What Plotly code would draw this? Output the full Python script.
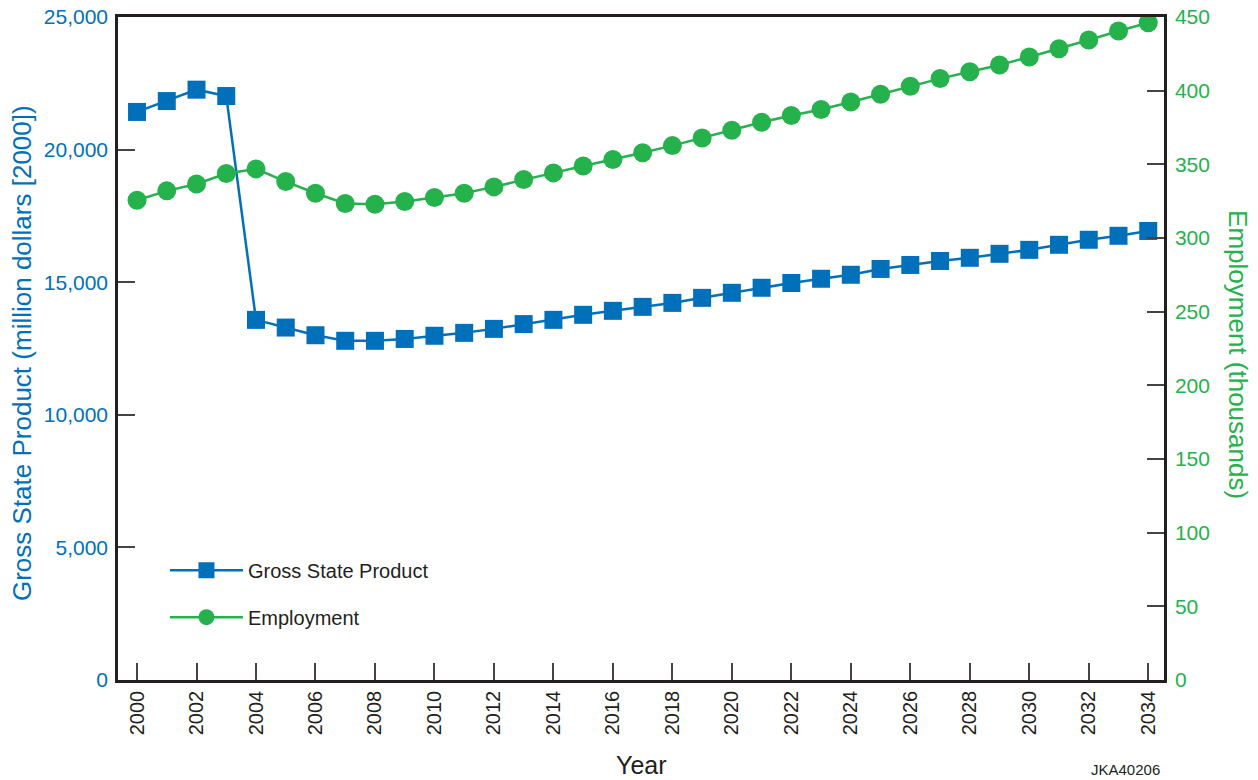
import plotly.graph_objects as go

years = list(range(2000, 2035))
gsp = [21420, 21830, 22260, 22020, 13580, 13290, 13000, 12790, 12790, 12860,
       12980, 13090, 13240, 13420, 13580, 13770, 13920, 14070, 14220, 14410,
       14600, 14790, 14970, 15130, 15280, 15500, 15650, 15800, 15920, 16070,
       16220, 16410, 16600, 16750, 16930]
employment = [325.6, 332.0, 336.7, 343.8, 346.9, 338.3, 330.4, 323.4, 322.9, 324.8,
              327.5, 330.4, 334.7, 339.7, 344.2, 348.9, 353.3, 357.8, 362.7, 367.9,
              373.1, 378.6, 383.1, 387.2, 392.3, 397.6, 403.0, 408.2, 412.9, 417.4,
              422.9, 428.5, 434.4, 440.5, 446.1]
x_ticks = list(range(2000, 2035, 2))
left_ticks = [0, 5000, 10000, 15000, 20000, 25000]
right_ticks = [0, 50, 100, 150, 200, 250, 300, 350, 400, 450]

BLUE = "#0070BA"
GREEN = "#25B14B"
AXIS = "#231F20"
FONT = "Liberation Sans, Arial, sans-serif"

fig = go.Figure()
fig.add_trace(go.Scatter(
    x=years, y=gsp, name="Gross State Product", mode="lines+markers",
    line=dict(color=BLUE, width=2.5),
    marker=dict(symbol="square", size=18, color=BLUE),
    legendgroup="g1", yaxis="y"))
fig.add_trace(go.Scatter(
    x=years, y=employment, name="Employment", mode="lines+markers",
    line=dict(color=GREEN, width=2.5),
    marker=dict(symbol="circle", size=19, color=GREEN),
    legendgroup="g2", yaxis="y2"))

fig.update_layout(
    width=1258, height=780,
    margin=dict(l=118, r=94, t=17, b=100, autoexpand=False),
    paper_bgcolor="white", plot_bgcolor="white",
    font=dict(family=FONT, size=20, color="#231F20"),
    showlegend=True,
    legend=dict(x=0.0449, y=0.195, xanchor="left", yanchor="top",
                bgcolor="rgba(0,0,0,0)", borderwidth=0,
                font=dict(size=20, color="#231F20"),
                traceorder="grouped", tracegroupgap=18, itemwidth=73),
    xaxis=dict(
        range=[1999.36, 2034.53], tickvals=x_ticks, ticktext=[str(v) for v in x_ticks],
        tickangle=-90, ticks="inside", ticklen=17, tickwidth=1.5, tickcolor="#444",
        showline=True, linecolor=AXIS, linewidth=2.5, mirror=True,
        showgrid=False, zeroline=False, automargin=False,
        tickfont=dict(size=20, color="#231F20"), ticklabelstandoff=0),
    yaxis=dict(
        range=[0, 25000], tickvals=left_ticks,
        ticktext=[f"{v:,}" for v in left_ticks],
        ticks="inside", ticklen=17, tickwidth=1.5, tickcolor="#444",
        showline=True, linecolor=AXIS, linewidth=2.5,
        showgrid=False, zeroline=False, automargin=False,
        tickfont=dict(size=21, color=BLUE), ticklabelstandoff=3),
    yaxis2=dict(
        range=[0, 450], tickvals=right_ticks, ticktext=[str(v) for v in right_ticks],
        overlaying="y", side="right",
        ticks="inside", ticklen=17, tickwidth=1.5, tickcolor="#444",
        showline=True, linecolor=AXIS, linewidth=2.5,
        showgrid=False, zeroline=False, automargin=False,
        tickfont=dict(size=21, color=GREEN), ticklabelstandoff=4),
    annotations=[
        dict(text="Gross State Product (million dollars [2000])", xref="paper", yref="paper",
             x=-0.0919, y=0.493, textangle=-90, showarrow=False,
             font=dict(size=26, color=BLUE), xanchor="center", yanchor="middle"),
        dict(text="Employment (thousands)", xref="paper", yref="paper",
             x=1.0708, y=0.4915, textangle=90, showarrow=False,
             font=dict(size=26, color=GREEN), xanchor="center", yanchor="middle"),
        dict(text="Year", xref="paper", yref="paper",
             x=0.5005, y=-0.128, showarrow=False,
             font=dict(size=25, color="#231F20"), xanchor="center", yanchor="middle"),
        dict(text="JKA40206", xref="paper", yref="paper",
             x=0.9636, y=-0.1357, showarrow=False,
             font=dict(size=15, color="#231F20"), xanchor="center", yanchor="middle"),
    ],
)

fig.write_html("out.html")
